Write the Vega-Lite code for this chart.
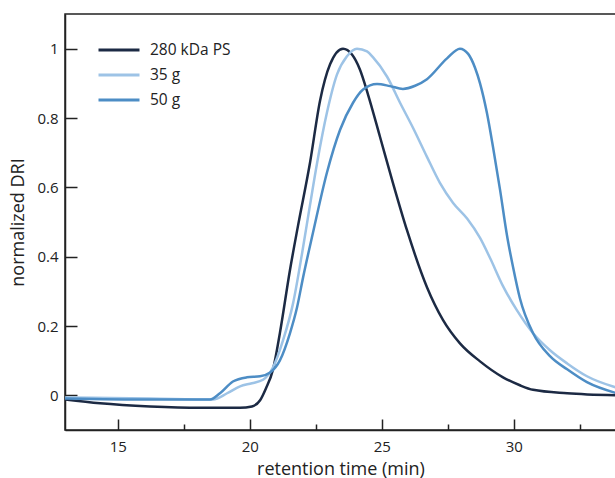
{
  "$schema": "https://vega.github.io/schema/vega-lite/v6.json",
  "autosize": {"type": "none"},
  "padding": {"left": 65, "top": 14, "right": 0, "bottom": 48},
  "width": 551,
  "height": 416,
  "background": "white",
  "config": {
    "font": "Open Sans",
    "view": {"stroke": "#222", "strokeWidth": 1.5},
    "axis": {"domainColor": "#222", "domainWidth": 1.5, "tickColor": "#222", "tickWidth": 1.5, "grid": false, "labelFont": "Open Sans", "labelFontSize": 15, "labelColor": "#222", "titleFont": "Open Sans", "titleFontSize": 18, "titleFontWeight": "normal", "titleColor": "#222"}
  },
  "data": {"values": [
    {"s": "280 kDa PS", "t": 13.0, "v": -0.012},
    {"s": "280 kDa PS", "t": 14.33, "v": -0.023},
    {"s": "280 kDa PS", "t": 16.22, "v": -0.032},
    {"s": "280 kDa PS", "t": 18.11, "v": -0.036},
    {"s": "280 kDa PS", "t": 19.63, "v": -0.036},
    {"s": "280 kDa PS", "t": 20.08, "v": -0.032},
    {"s": "280 kDa PS", "t": 20.39, "v": -0.014},
    {"s": "280 kDa PS", "t": 20.61, "v": 0.02},
    {"s": "280 kDa PS", "t": 20.88, "v": 0.075},
    {"s": "280 kDa PS", "t": 21.14, "v": 0.18},
    {"s": "280 kDa PS", "t": 21.52, "v": 0.361},
    {"s": "280 kDa PS", "t": 21.83, "v": 0.491},
    {"s": "280 kDa PS", "t": 22.28, "v": 0.671},
    {"s": "280 kDa PS", "t": 22.66, "v": 0.85},
    {"s": "280 kDa PS", "t": 23.04, "v": 0.955},
    {"s": "280 kDa PS", "t": 23.53, "v": 1.0},
    {"s": "280 kDa PS", "t": 23.87, "v": 0.983},
    {"s": "280 kDa PS", "t": 24.17, "v": 0.94},
    {"s": "280 kDa PS", "t": 24.48, "v": 0.867},
    {"s": "280 kDa PS", "t": 24.93, "v": 0.746},
    {"s": "280 kDa PS", "t": 25.42, "v": 0.613},
    {"s": "280 kDa PS", "t": 25.95, "v": 0.477},
    {"s": "280 kDa PS", "t": 26.71, "v": 0.312},
    {"s": "280 kDa PS", "t": 27.32, "v": 0.217},
    {"s": "280 kDa PS", "t": 27.96, "v": 0.15},
    {"s": "280 kDa PS", "t": 28.72, "v": 0.098},
    {"s": "280 kDa PS", "t": 29.59, "v": 0.052},
    {"s": "280 kDa PS", "t": 30.23, "v": 0.029},
    {"s": "280 kDa PS", "t": 30.73, "v": 0.016},
    {"s": "280 kDa PS", "t": 32.02, "v": 0.006},
    {"s": "280 kDa PS", "t": 33.9, "v": 0.0},
    {"s": "35 g", "t": 13.0, "v": -0.006},
    {"s": "35 g", "t": 16.22, "v": -0.009},
    {"s": "35 g", "t": 18.61, "v": -0.012},
    {"s": "35 g", "t": 19.14, "v": 0.006},
    {"s": "35 g", "t": 19.63, "v": 0.026},
    {"s": "35 g", "t": 20.08, "v": 0.035},
    {"s": "35 g", "t": 20.5, "v": 0.045},
    {"s": "35 g", "t": 20.88, "v": 0.081},
    {"s": "35 g", "t": 21.26, "v": 0.159},
    {"s": "35 g", "t": 21.64, "v": 0.266},
    {"s": "35 g", "t": 21.98, "v": 0.41},
    {"s": "35 g", "t": 22.28, "v": 0.549},
    {"s": "35 g", "t": 22.55, "v": 0.671},
    {"s": "35 g", "t": 22.92, "v": 0.815},
    {"s": "35 g", "t": 23.3, "v": 0.925},
    {"s": "35 g", "t": 23.68, "v": 0.978},
    {"s": "35 g", "t": 24.06, "v": 1.0},
    {"s": "35 g", "t": 24.44, "v": 0.992},
    {"s": "35 g", "t": 24.67, "v": 0.975},
    {"s": "35 g", "t": 25.2, "v": 0.919},
    {"s": "35 g", "t": 25.69, "v": 0.844},
    {"s": "35 g", "t": 26.18, "v": 0.772},
    {"s": "35 g", "t": 26.71, "v": 0.688},
    {"s": "35 g", "t": 27.2, "v": 0.613},
    {"s": "35 g", "t": 27.7, "v": 0.555},
    {"s": "35 g", "t": 28.23, "v": 0.51},
    {"s": "35 g", "t": 28.72, "v": 0.454},
    {"s": "35 g", "t": 29.1, "v": 0.396},
    {"s": "35 g", "t": 29.59, "v": 0.315},
    {"s": "35 g", "t": 30.12, "v": 0.245},
    {"s": "35 g", "t": 30.73, "v": 0.179},
    {"s": "35 g", "t": 31.37, "v": 0.13},
    {"s": "35 g", "t": 32.02, "v": 0.092},
    {"s": "35 g", "t": 32.77, "v": 0.055},
    {"s": "35 g", "t": 33.9, "v": 0.022},
    {"s": "50 g", "t": 13.0, "v": -0.009},
    {"s": "50 g", "t": 16.22, "v": -0.012},
    {"s": "50 g", "t": 18.49, "v": -0.012},
    {"s": "50 g", "t": 18.87, "v": 0.006},
    {"s": "50 g", "t": 19.36, "v": 0.04},
    {"s": "50 g", "t": 19.89, "v": 0.052},
    {"s": "50 g", "t": 20.39, "v": 0.055},
    {"s": "50 g", "t": 20.77, "v": 0.066},
    {"s": "50 g", "t": 21.14, "v": 0.101},
    {"s": "50 g", "t": 21.52, "v": 0.179},
    {"s": "50 g", "t": 21.79, "v": 0.254},
    {"s": "50 g", "t": 22.02, "v": 0.341},
    {"s": "50 g", "t": 22.39, "v": 0.468},
    {"s": "50 g", "t": 22.92, "v": 0.642},
    {"s": "50 g", "t": 23.42, "v": 0.766},
    {"s": "50 g", "t": 23.91, "v": 0.844},
    {"s": "50 g", "t": 24.29, "v": 0.882},
    {"s": "50 g", "t": 24.82, "v": 0.898},
    {"s": "50 g", "t": 25.31, "v": 0.892},
    {"s": "50 g", "t": 25.8, "v": 0.884},
    {"s": "50 g", "t": 26.26, "v": 0.893},
    {"s": "50 g", "t": 26.71, "v": 0.912},
    {"s": "50 g", "t": 27.47, "v": 0.972},
    {"s": "50 g", "t": 27.96, "v": 1.0},
    {"s": "50 g", "t": 28.27, "v": 0.985},
    {"s": "50 g", "t": 28.53, "v": 0.945},
    {"s": "50 g", "t": 28.72, "v": 0.9},
    {"s": "50 g", "t": 28.98, "v": 0.815},
    {"s": "50 g", "t": 29.21, "v": 0.717},
    {"s": "50 g", "t": 29.48, "v": 0.592},
    {"s": "50 g", "t": 29.74, "v": 0.462},
    {"s": "50 g", "t": 29.97, "v": 0.37},
    {"s": "50 g", "t": 30.23, "v": 0.28},
    {"s": "50 g", "t": 30.73, "v": 0.179},
    {"s": "50 g", "t": 31.37, "v": 0.113},
    {"s": "50 g", "t": 32.02, "v": 0.075},
    {"s": "50 g", "t": 32.77, "v": 0.038},
    {"s": "50 g", "t": 33.9, "v": 0.006}
  ]},
  "mark": {"type": "line", "strokeWidth": 2.5, "interpolate": "monotone", "clip": true},
  "encoding": {
    "x": {"field": "t", "type": "quantitative", "scale": {"domain": [13, 33.87], "nice": false, "zero": false},
      "axis": {"title": "retention time (min)", "values": [15, 17.5, 20, 22.5, 25, 27.5, 30, 32.5],
        "labelExpr": "datum.value % 5 === 0 ? datum.label : ''",
        "tickSize": {"condition": {"test": "datum.value % 5 === 0", "value": -11}, "value": -6},
        "labelPadding": 20, "titlePadding": 6}},
    "y": {"field": "v", "type": "quantitative", "scale": {"domain": [-0.1, 1.1], "nice": false, "zero": false},
      "axis": {"title": "normalized DRI", "values": [0, 0.2, 0.4, 0.6, 0.8, 1], "format": "~g", "tickSize": -12, "labelPadding": 19, "titlePadding": 9}},
    "color": {"field": "s", "type": "nominal",
      "scale": {"domain": ["280 kDa PS", "35 g", "50 g"], "range": ["#1c2a44", "#9dc3e6", "#4d8dc5"]},
      "legend": {"title": null, "orient": "none", "legendX": 42, "legendY": 24, "symbolType": "M-2,0L2,0", "symbolSize": 420, "symbolStrokeWidth": 3, "symbolFillColor": "transparent", "labelFontSize": 15.5, "labelFont": "Open Sans", "labelColor": "#222", "labelOffset": 19, "rowPadding": 4, "padding": 0}}
  }
}
